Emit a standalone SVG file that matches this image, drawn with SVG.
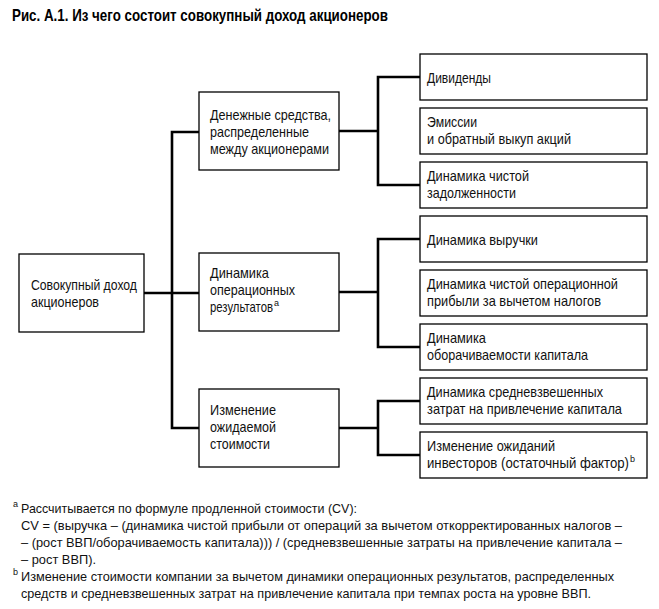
<svg xmlns="http://www.w3.org/2000/svg" width="659" height="609" viewBox="0 0 659 609">
<style>
.box{fill:#fff;stroke:#000;stroke-width:1.3}
.t{font-family:"Liberation Sans",Arial,sans-serif;font-size:14.5px;fill:#111}
.f{font-family:"Liberation Sans",Arial,sans-serif;font-size:13.5px;fill:#111}
.sup{font-family:"Liberation Sans",Arial,sans-serif;font-size:9px;fill:#111}
.title{font-family:"Liberation Sans",Arial,sans-serif;font-size:17px;font-weight:bold;fill:#000}
.c{fill:none;stroke:#000;stroke-width:2.6}
</style>
<rect width="659" height="609" fill="#fff"/>
<text class="title" x="12" y="21" textLength="376" lengthAdjust="spacingAndGlyphs">Рис. А.1. Из чего состоит совокупный доход акционеров</text>

<g id="connectors">
<path class="c" d="M199 132 H172 V428 H199 M144 293 H199"/>
<path class="c" d="M420 77 H378 V185 H420 M339 131 H378"/>
<path class="c" d="M420 239 H378 V347 H420 M339 292 H378"/>
<path class="c" d="M420 401 H378 V455 H420 M339 428 H378"/>
</g>

<g id="root">
<rect class="box" x="19" y="254" width="125" height="78"/>
<text class="t" x="31" y="290" textLength="106" lengthAdjust="spacingAndGlyphs">Совокупный доход</text>
<text class="t" x="31" y="307" textLength="68" lengthAdjust="spacingAndGlyphs">акционеров</text>
</g>

<g id="cash">
<rect class="box" x="199" y="92" width="140" height="78"/>
<text class="t" x="210" y="120" textLength="121" lengthAdjust="spacingAndGlyphs">Денежные средства,</text>
<text class="t" x="210" y="137" textLength="99" lengthAdjust="spacingAndGlyphs">распределенные</text>
<text class="t" x="210" y="154" textLength="119" lengthAdjust="spacingAndGlyphs">между акционерами</text>
</g>

<g id="operating">
<rect class="box" x="199" y="253" width="140" height="78"/>
<text class="t" x="210" y="278" textLength="59" lengthAdjust="spacingAndGlyphs">Динамика</text>
<text class="t" x="210" y="295" textLength="85" lengthAdjust="spacingAndGlyphs">операционных</text>
<text class="t" x="210" y="312"><tspan textLength="63" lengthAdjust="spacingAndGlyphs">результатов</tspan><tspan dx="1" dy="-6" style="font-size:9px">a</tspan></text>
</g>

<g id="expected">
<rect class="box" x="199" y="389" width="140" height="78"/>
<text class="t" x="210" y="415" textLength="66" lengthAdjust="spacingAndGlyphs">Изменение</text>
<text class="t" x="210" y="432" textLength="66" lengthAdjust="spacingAndGlyphs">ожидаемой</text>
<text class="t" x="210" y="449" textLength="60" lengthAdjust="spacingAndGlyphs">стоимости</text>
</g>

<g id="dividends">
<rect class="box" x="420" y="54" width="227" height="46"/>
<text class="t" x="427" y="83" textLength="64" lengthAdjust="spacingAndGlyphs">Дивиденды</text>
</g>
<g id="issues">
<rect class="box" x="420" y="108" width="227" height="46"/>
<text class="t" x="427" y="127" textLength="50" lengthAdjust="spacingAndGlyphs">Эмиссии</text>
<text class="t" x="427" y="144" textLength="144" lengthAdjust="spacingAndGlyphs">и обратный выкуп акций</text>
</g>
<g id="debt">
<rect class="box" x="420" y="162" width="227" height="46"/>
<text class="t" x="427" y="181" textLength="102" lengthAdjust="spacingAndGlyphs">Динамика чистой</text>
<text class="t" x="427" y="198" textLength="89" lengthAdjust="spacingAndGlyphs">задолженности</text>
</g>
<g id="revenue">
<rect class="box" x="420" y="216" width="227" height="46"/>
<text class="t" x="427" y="245" textLength="111" lengthAdjust="spacingAndGlyphs">Динамика выручки</text>
</g>
<g id="nopat">
<rect class="box" x="420" y="270" width="227" height="46"/>
<text class="t" x="427" y="289" textLength="191" lengthAdjust="spacingAndGlyphs">Динамика чистой операционной</text>
<text class="t" x="427" y="306" textLength="174" lengthAdjust="spacingAndGlyphs">прибыли за вычетом налогов</text>
</g>
<g id="turnover">
<rect class="box" x="420" y="324" width="227" height="46"/>
<text class="t" x="427" y="343" textLength="59" lengthAdjust="spacingAndGlyphs">Динамика</text>
<text class="t" x="427" y="360" textLength="161" lengthAdjust="spacingAndGlyphs">оборачиваемости капитала</text>
</g>
<g id="wacc">
<rect class="box" x="420" y="378" width="227" height="46"/>
<text class="t" x="427" y="397" textLength="176" lengthAdjust="spacingAndGlyphs">Динамика средневзвешенных</text>
<text class="t" x="427" y="414" textLength="195" lengthAdjust="spacingAndGlyphs">затрат на привлечение капитала</text>
</g>
<g id="investors">
<rect class="box" x="420" y="432" width="227" height="46"/>
<text class="t" x="427" y="451" textLength="128" lengthAdjust="spacingAndGlyphs">Изменение ожиданий</text>
<text class="t" x="427" y="468"><tspan textLength="202" lengthAdjust="spacingAndGlyphs">инвесторов (остаточный фактор)</tspan><tspan dx="1" dy="-6" style="font-size:9px">b</tspan></text>
</g>

<g id="footnotes">
<text class="sup" x="13" y="507">a</text>
<text class="f" x="21" y="513" textLength="336" lengthAdjust="spacingAndGlyphs">Рассчитывается по формуле продленной стоимости (CV):</text>
<text class="f" x="21" y="530" textLength="601" lengthAdjust="spacingAndGlyphs">CV = (выручка – (динамика чистой прибыли от операций за вычетом откорректированных налогов –</text>
<text class="f" x="21" y="547" textLength="601" lengthAdjust="spacingAndGlyphs">– (рост ВВП/оборачиваемость капитала))) / (средневзвешенные затраты на привлечение капитала –</text>
<text class="f" x="21" y="564" textLength="75" lengthAdjust="spacingAndGlyphs">– рост ВВП).</text>
<text class="sup" x="13" y="575">b</text>
<text class="f" x="21" y="581" textLength="593" lengthAdjust="spacingAndGlyphs">Изменение стоимости компании за вычетом динамики операционных результатов, распределенных</text>
<text class="f" x="21" y="598" textLength="570" lengthAdjust="spacingAndGlyphs">средств и средневзвешенных затрат на привлечение капитала при темпах роста на уровне ВВП.</text>
</g>
</svg>
